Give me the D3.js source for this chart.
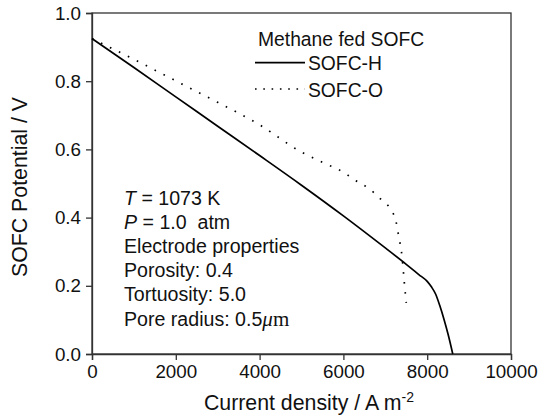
<!DOCTYPE html>
<html>
<head>
<meta charset="utf-8">
<script src="https://cdn.jsdelivr.net/npm/d3@7"></script>
<style>
  html, body { margin: 0; padding: 0; background: #fff; }
  svg { display: block; font-family: "Liberation Sans", Arial, sans-serif; }
</style>
</head>
<body>
<svg id="chart" width="541" height="419"></svg>
<script>
// Polarisation curves of a methane-fed SOFC
const currentH = [0, 1000, 2000, 3000, 4000, 5000, 6000, 7000, 7500, 7800, 8000, 8100, 8200, 8300, 8400, 8500, 8610];
const potentialH = [0.925, 0.840, 0.754, 0.668, 0.582, 0.495, 0.405, 0.311, 0.263, 0.233, 0.213, 0.197, 0.176, 0.142, 0.102, 0.057, 0.0];

const currentO = [0, 1000, 2000, 3000, 4000, 5000, 5500, 6000, 6300, 6600, 6900, 7150, 7250, 7320, 7400, 7450, 7500];
const potentialO = [0.925, 0.864, 0.801, 0.738, 0.672, 0.592, 0.562, 0.533, 0.508, 0.486, 0.453, 0.420, 0.392, 0.345, 0.285, 0.215, 0.150];

const xTicks = [0, 2000, 4000, 6000, 8000, 10000];
const yTicks = [0.0, 0.2, 0.4, 0.6, 0.8, 1.0];

const seriesNames = ["SOFC-H", "SOFC-O"];
const legendTitle = "Methane fed SOFC";

const svg = d3.select("#chart");
const margin = { left: 92, top: 13, right: 30, bottom: 65 };
const W = 541, H = 419;
const innerW = W - margin.left - margin.right;
const innerH = H - margin.top - margin.bottom;

const x = d3.scaleLinear().domain([0, 10000]).range([margin.left, margin.left + innerW]);
const y = d3.scaleLinear().domain([0, 1]).range([margin.top + innerH, margin.top]);

const axisColor = "#333";

// frame
svg.append("rect")
  .attr("x", x(0)).attr("y", y(1))
  .attr("width", x(10000) - x(0)).attr("height", y(0) - y(1))
  .attr("fill", "none").attr("stroke", axisColor).attr("stroke-width", 1.3);

// axes
const xAxis = svg.append("g")
  .attr("transform", `translate(0,${y(0)})`)
  .call(d3.axisBottom(x).tickValues(xTicks).tickFormat(d3.format("d")).tickSize(6).tickPadding(5));
const yAxis = svg.append("g")
  .attr("transform", `translate(${x(0)},0)`)
  .call(d3.axisLeft(y).tickValues(yTicks).tickFormat(d3.format(".1f")).tickSize(6).tickPadding(5));

[xAxis, yAxis].forEach(g => {
  g.select(".domain").attr("stroke", axisColor).attr("stroke-width", 1.3);
  g.selectAll(".tick line").attr("stroke", axisColor).attr("stroke-width", 1.3);
  g.selectAll(".tick text")
    .attr("fill", "#111")
    .style("font-family", "'Liberation Sans', Arial, sans-serif")
    .style("font-size", "18.8px");
});

// axis titles
const xt = svg.append("text")
  .attr("x", 309).attr("y", 410)
  .attr("text-anchor", "middle")
  .attr("fill", "#111")
  .style("font-size", "21.3px");
xt.append("tspan").text("Current density / A m");
xt.append("tspan").attr("dy", -8).style("font-size", "14px").text("-2");

svg.append("text")
  .attr("transform", `translate(27,187) rotate(-90)`)
  .attr("text-anchor", "middle")
  .attr("fill", "#111")
  .style("font-size", "21.3px")
  .text("SOFC Potential / V");

// curves
const lineGen = (xs, ys) => d3.line()
  .x((d, i) => x(xs[i]))
  .y((d, i) => y(ys[i]))
  .curve(d3.curveMonotoneX)(xs);

svg.append("path")
  .attr("d", lineGen(currentO, potentialO))
  .attr("fill", "none")
  .attr("stroke", "#000")
  .attr("stroke-width", 1.7)
  .attr("stroke-dasharray", "1.6,8.4");

svg.append("path")
  .attr("d", lineGen(currentH, potentialH))
  .attr("fill", "none")
  .attr("stroke", "#000")
  .attr("stroke-width", 1.7);

// legend
const legend = svg.append("g").style("font-size", "19.3px").attr("fill", "#111");
legend.append("text").attr("x", 258).attr("y", 46).text(legendTitle);
const legendRows = [
  { name: seriesNames[0], ly: 62.7, ty: 70, dash: null },
  { name: seriesNames[1], ly: 89, ty: 96.5, dash: "1.6,6.7" }
];
legendRows.forEach(r => {
  legend.append("line")
    .attr("x1", 255).attr("x2", 305).attr("y1", r.ly).attr("y2", r.ly)
    .attr("stroke", "#000").attr("stroke-width", 1.7)
    .attr("stroke-dasharray", r.dash);
  legend.append("text").attr("x", 308).attr("y", r.ty).text(r.name);
});

// operating conditions
const notes = svg.append("g").style("font-size", "19.6px").attr("fill", "#111");
const nx = 124, ny0 = 204.5, nStep = 24.2;
const n1 = notes.append("text").attr("x", nx).attr("y", ny0);
n1.append("tspan").style("font-style", "italic").text("T");
n1.append("tspan").text(" = 1073 K");
const n2 = notes.append("text").attr("x", nx).attr("y", ny0 + nStep).style("white-space", "pre");
n2.append("tspan").style("font-style", "italic").text("P");
n2.append("tspan").text(" = 1.0  atm");
notes.append("text").attr("x", nx).attr("y", ny0 + 2 * nStep).text("Electrode properties");
notes.append("text").attr("x", nx).attr("y", ny0 + 3 * nStep).text("Porosity: 0.4");
notes.append("text").attr("x", nx).attr("y", ny0 + 4 * nStep).text("Tortuosity: 5.0");
const n6 = notes.append("text").attr("x", nx).attr("y", ny0 + 5 * nStep);
n6.append("tspan").text("Pore radius: 0.5");
n6.append("tspan").style("font-family", "'Liberation Serif', 'Times New Roman', serif")
  .style("font-style", "italic").style("font-size", "21px").text("\u03BC");
n6.append("tspan").style("font-family", "'Liberation Serif', 'Times New Roman', serif")
  .style("font-size", "21px").text("m");
</script>
</body>
</html>
